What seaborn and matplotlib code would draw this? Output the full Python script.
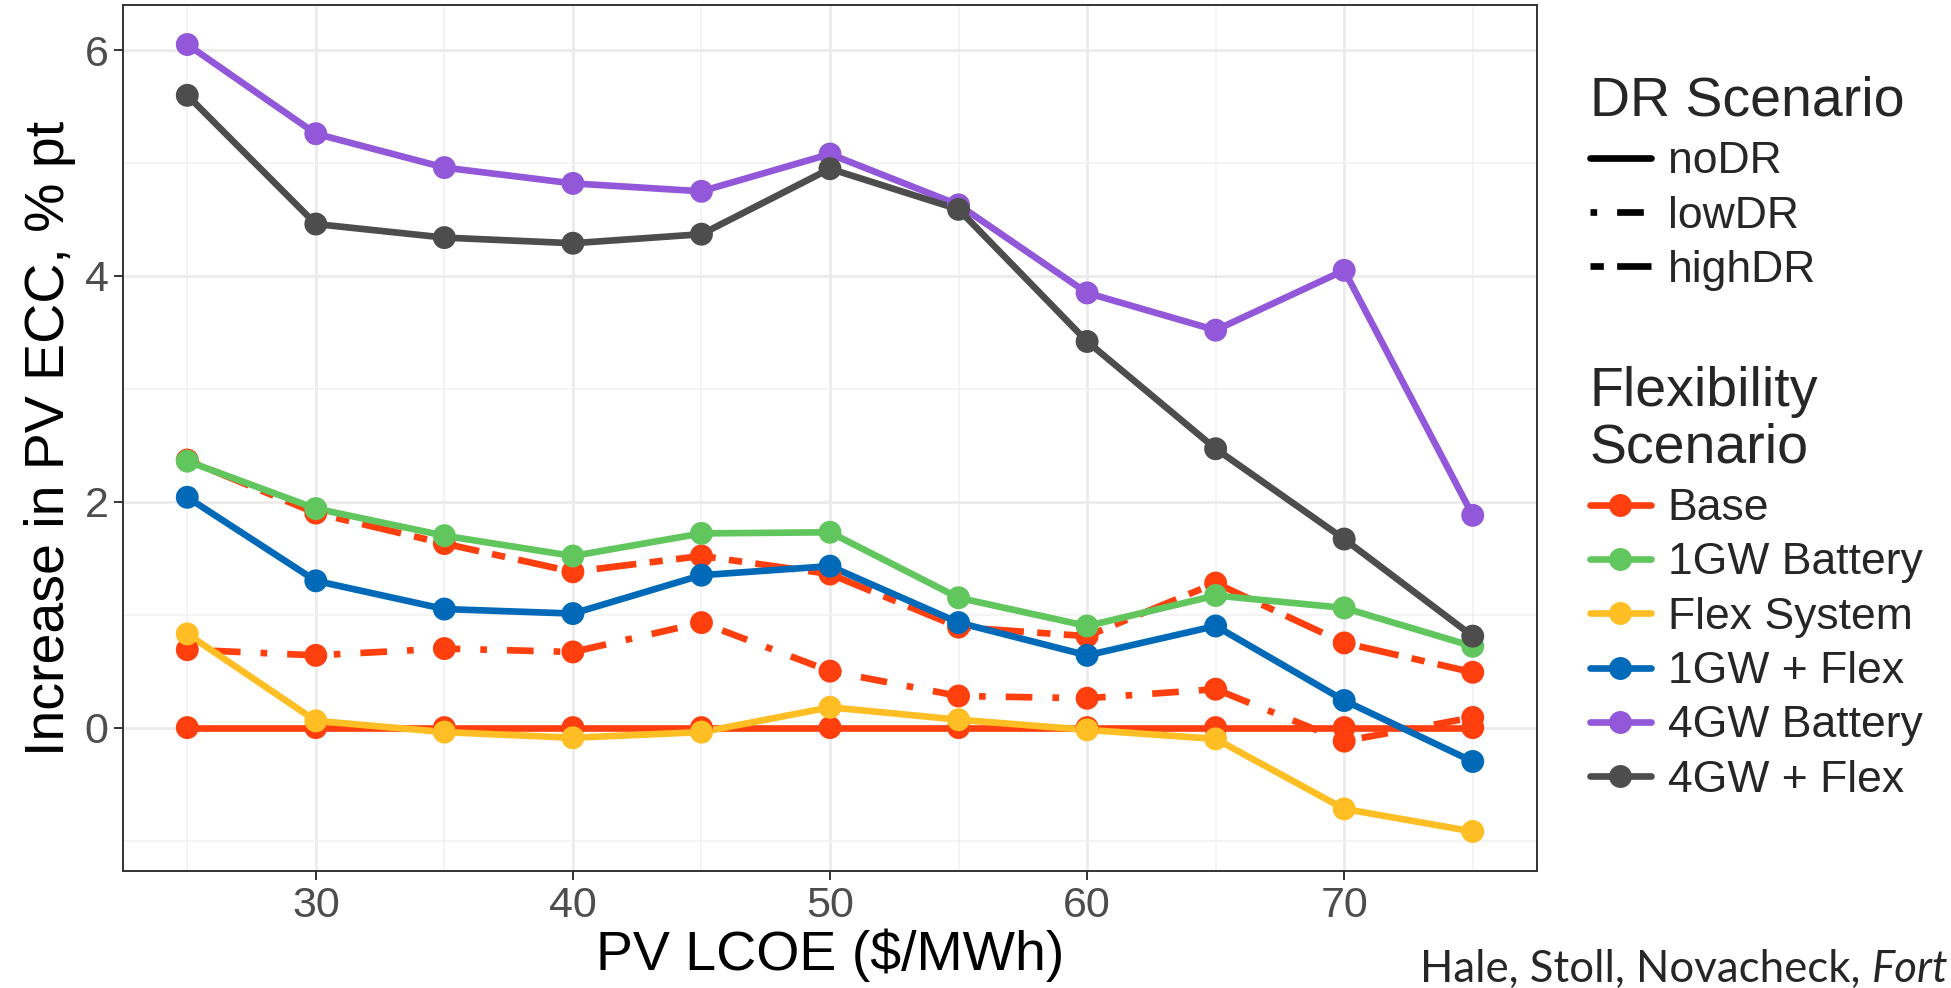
import matplotlib
matplotlib.use("Agg")
import matplotlib.pyplot as plt
from matplotlib.lines import Line2D
import numpy as np
import pandas as pd
import seaborn as sns

# PV LCOE levels ($/MWh)
lcoe = [25, 30, 35, 40, 45, 50, 55, 60, 65, 70, 75]

# Increase in PV ECC (% pt) by flexibility / DR scenario
base_nodr = [0.0, 0.0, 0.0, 0.0, 0.0, 0.0, 0.0, 0.0, 0.0, 0.0, 0.0]
base_lowdr = [0.69, 0.64, 0.70, 0.67, 0.93, 0.50, 0.28, 0.26, 0.34, -0.12, 0.09]
base_highdr = [2.37, 1.90, 1.63, 1.38, 1.52, 1.36, 0.89, 0.81, 1.28, 0.75, 0.49]
battery_1gw = [2.36, 1.94, 1.70, 1.52, 1.72, 1.73, 1.15, 0.90, 1.17, 1.06, 0.72]
flex_system = [0.83, 0.06, -0.04, -0.09, -0.04, 0.18, 0.07, -0.02, -0.10, -0.72, -0.92]
gw1_flex = [2.04, 1.30, 1.05, 1.01, 1.35, 1.43, 0.93, 0.64, 0.90, 0.24, -0.30]
battery_4gw = [6.05, 5.26, 4.96, 4.82, 4.75, 5.08, 4.63, 3.85, 3.52, 4.05, 1.88]
gw4_flex = [5.60, 4.46, 4.34, 4.29, 4.37, 4.95, 4.59, 3.42, 2.47, 1.67, 0.81]

flex_levels = ["Base", "1GW Battery", "Flex System", "1GW + Flex", "4GW Battery", "4GW + Flex"]
dr_levels = ["noDR", "lowDR", "highDR"]
flex_colors = ["#FF400E", "#62C65F", "#FFBF24", "#006AB8", "#9258D9", "#4D4D4D"]

series = [
    ("Base", "noDR", base_nodr),
    ("Base", "lowDR", base_lowdr),
    ("Base", "highDR", base_highdr),
    ("1GW Battery", "noDR", battery_1gw),
    ("Flex System", "noDR", flex_system),
    ("1GW + Flex", "noDR", gw1_flex),
    ("4GW Battery", "noDR", battery_4gw),
    ("4GW + Flex", "noDR", gw4_flex),
]
df = pd.concat(
    [pd.DataFrame({"lcoe": lcoe, "ecc": vals, "flex": f, "dr": d}) for f, d, vals in series],
    ignore_index=True,
)

sns.set_style("white")
plt.rcParams["font.family"] = ["Liberation Sans", "DejaVu Sans"]

W, H = 1951, 988
fig = plt.figure(figsize=(W / 100, H / 100), dpi=100)
ax = fig.add_axes([123 / W, 1 - 871 / H, 1414 / W, 866 / H])

palette = dict(zip(flex_levels, flex_colors))
dash_map = {"noDR": "", "lowDR": (1, 3, 4, 3), "highDR": (2, 2, 6, 2)}
LW = 4.8
MS = 16.5

sns.lineplot(
    data=df, x="lcoe", y="ecc", hue="flex", style="dr",
    hue_order=flex_levels, style_order=dr_levels, palette=palette,
    dashes=dash_map, linewidth=LW, sort=False, errorbar=None,
    legend=False, ax=ax, zorder=2,
)
sns.scatterplot(
    data=df, x="lcoe", y="ecc", hue="flex", hue_order=flex_levels,
    palette=palette, s=MS ** 2, linewidth=0, legend=False, ax=ax, zorder=3,
)

# axes styling in the spirit of theme_bw
ax.set_xlim(22.5, 77.5)
ax.set_ylim(-1.27, 6.40)
ax.set_xticks([30, 40, 50, 60, 70])
ax.set_xticks([25, 35, 45, 55, 65, 75], minor=True)
ax.set_yticks([0, 2, 4, 6])
ax.set_yticks([-1, 1, 3, 5], minor=True)
ax.grid(True, which="major", color="#EBEBEB", linewidth=2.0)
ax.grid(True, which="minor", color="#F2F2F2", linewidth=1.2)
ax.set_axisbelow(True)
for sp in ax.spines.values():
    sp.set_visible(True)
    sp.set_color("#333333")
    sp.set_linewidth(1.4)
ax.tick_params(which="major", length=6.5, width=1.4, color="#333333",
               labelsize=31, labelcolor="#4D4D4D", pad=4,
               bottom=True, left=True)
ax.tick_params(which="minor", length=0)
ax.set_xlabel("PV LCOE ($/MWh)", fontsize=40, color="black", labelpad=2)
ax.set_ylabel("Increase in PV ECC, % pt", fontsize=40, color="black", labelpad=6)

# legends
dr_handles = []
for d in dr_levels:
    h = Line2D([], [], color="black", linewidth=LW)
    if dash_map[d]:
        h.set_dashes(dash_map[d])
    dr_handles.append(h)
leg1 = fig.legend(dr_handles, dr_levels, title="DR Scenario", loc="upper left",
                  bbox_to_anchor=(1590 / W, 1 - 76 / H), frameon=False,
                  fontsize=32, title_fontsize=40, handlelength=1.37,
                  handletextpad=0.38, labelspacing=0.30, borderpad=0,
                  borderaxespad=0, alignment="left")

flex_handles = [Line2D([], [], color=c, linewidth=LW, marker="o", markersize=MS,
                       markeredgewidth=0) for c in flex_colors]
leg2 = fig.legend(flex_handles, flex_levels, title="Flexibility\nScenario", loc="upper left",
                  bbox_to_anchor=(1590 / W, 1 - 366 / H), frameon=False,
                  fontsize=32, title_fontsize=40, handlelength=1.37,
                  handletextpad=0.38, labelspacing=0.30, borderpad=0,
                  borderaxespad=0, alignment="left")
leg2.get_title().set_linespacing(1.12)

# citation
cite_x, cite_y = 1420 / W, 1 - 982 / H
t1 = fig.text(cite_x, cite_y, "Hale, Stoll, Novacheck, ", fontsize=31.5,
              family=["Lato", "DejaVu Sans"], va="baseline", ha="left")
renderer = fig.canvas.get_renderer()
bb = t1.get_window_extent(renderer=renderer)
fig.text(bb.x1 / W, cite_y, "Fort", fontsize=31.5, style="italic",
         family=["Lato", "DejaVu Sans"], va="baseline", ha="left")

fig.savefig("out.png", dpi=100)
